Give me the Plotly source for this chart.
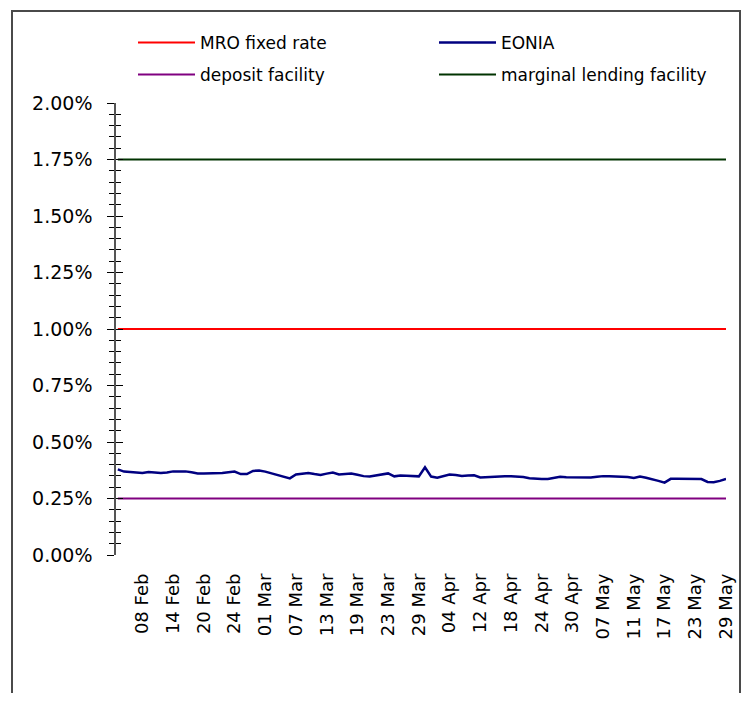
import plotly.graph_objects as go

# ---- data -------------------------------------------------------------
tick_labels = ["08 Feb", "14 Feb", "20 Feb", "24 Feb", "01 Mar", "07 Mar", "13 Mar",
               "19 Mar", "23 Mar", "29 Mar", "04 Apr", "12 Apr", "18 Apr", "24 Apr",
               "30 Apr", "07 May", "11 May", "17 May", "23 May", "29 May"]

eonia = [0.379, 0.369, 0.367, 0.365, 0.363, 0.367, 0.364, 0.363, 0.365, 0.370,
         0.370, 0.370, 0.366, 0.361, 0.361, 0.361, 0.362, 0.363, 0.366, 0.369,
         0.358, 0.358, 0.372, 0.374, 0.369, 0.362, 0.354, 0.346, 0.339, 0.356,
         0.360, 0.363, 0.358, 0.354, 0.360, 0.365, 0.356, 0.360, 0.361, 0.355,
         0.349, 0.347, 0.352, 0.357, 0.361, 0.348, 0.352, 0.351, 0.349, 0.348,
         0.388, 0.347, 0.342, 0.350, 0.356, 0.354, 0.350, 0.352, 0.353, 0.343,
         0.345, 0.346, 0.348, 0.349, 0.348, 0.348, 0.345, 0.340, 0.337, 0.336,
         0.336, 0.341, 0.346, 0.344, 0.343, 0.343, 0.343, 0.343, 0.346, 0.349,
         0.348, 0.347, 0.348, 0.345, 0.341, 0.347, 0.342, 0.336, 0.328, 0.320,
         0.337, 0.337, 0.336, 0.336, 0.336, 0.336, 0.323, 0.322, 0.328, 0.337]

mro_rate = 1.00
deposit_rate = 0.25
marginal_rate = 1.75

n = len(eonia)
x_idx = list(range(n))
label_step = 5
tick_pos = [i for i in range(label_step - 1, n, label_step)]

# ---- layout constants (page body has an 8px margin) ---------------------
OFF = 8
W, H = 749 - 2 * OFF, 701 - 2 * OFF
# target screen positions of the plot area
AX_L, AX_R, AX_T, AX_B = 116, 726, 103, 555
ML = AX_L - OFF
MT = AX_T - OFF
MR = W - (AX_R - OFF)
MB = H - (AX_B - OFF)
PW, PH = W - ML - MR, H - MT - MB

def px_x(p):
    return (p - OFF - ML) / PW

def px_y(p):
    return (H - MB - (p - OFF)) / PH

FONT = "DejaVu Sans, Verdana, sans-serif"

fig = go.Figure()
fig.add_trace(go.Scatter(x=x_idx, y=[mro_rate] * n, mode="lines", name="MRO fixed rate",
                         line=dict(color="#FF0000", width=2), legend="legend"))
fig.add_trace(go.Scatter(x=x_idx, y=eonia, mode="lines", name="EONIA",
                         line=dict(color="#000080", width=2.5), legend="legend2"))
fig.add_trace(go.Scatter(x=x_idx, y=[deposit_rate] * n, mode="lines", name="deposit facility",
                         line=dict(color="#800080", width=2), legend="legend3", yaxis="y2"))
fig.add_trace(go.Scatter(x=x_idx, y=[marginal_rate] * n, mode="lines",
                         name="marginal lending facility",
                         line=dict(color="#003300", width=2), legend="legend4"))

yrange = [0, 2]
legend_common = dict(orientation="h", xanchor="left", yanchor="middle", itemwidth=57,
                     bgcolor="rgba(0,0,0,0)", font=dict(family=FONT, size=17))
col1, col2 = 133, 434
row1, row2 = 43, 75
fig.update_layout(
    width=W, height=H,
    margin=dict(l=ML, r=MR, t=MT, b=MB, autoexpand=False),
    paper_bgcolor="white", plot_bgcolor="white",
    font=dict(family=FONT, size=18, color="black"),
    xaxis=dict(range=[-0.3, n - 1], tickmode="array", tickvals=tick_pos,
               ticktext=tick_labels, tickangle=-90, ticks="", showgrid=False,
               showline=False, zeroline=False, ticklabelstandoff=14,
               automargin=False, tickfont=dict(size=18)),
    yaxis=dict(range=yrange, dtick=0.25, tick0=0, tickformat=".2f", ticksuffix="%",
               ticks="outside", ticklen=7, tickwidth=1, tickcolor="black",
               showline=True, linecolor="#555555", linewidth=1.5,
               showgrid=False, zeroline=False, ticklabelstandoff=11,
               automargin=False, tickfont=dict(size=19),
               minor=dict(dtick=0.05, tick0=0, ticks="outside", ticklen=5,
                          tickcolor="black", tickwidth=1, showgrid=False)),
    yaxis2=dict(range=yrange, overlaying="y", side="left", anchor="x",
                dtick=0.25, tick0=0, ticks="inside", ticklen=7, tickwidth=1,
                tickcolor="black", showticklabels=False, showline=False,
                showgrid=False, zeroline=False, automargin=False,
                minor=dict(dtick=0.05, tick0=0, ticks="inside", ticklen=5,
                           tickcolor="black", tickwidth=1, showgrid=False)),
    legend=dict(x=px_x(col1), y=px_y(row1), **legend_common),
    legend2=dict(x=px_x(col2), y=px_y(row1), **legend_common),
    legend3=dict(x=px_x(col1), y=px_y(row2), **legend_common),
    legend4=dict(x=px_x(col2), y=px_y(row2), **legend_common),
    showlegend=True,
    shapes=[dict(type="rect", xref="paper", yref="paper",
                 x0=px_x(12), x1=px_x(740), y0=px_y(760), y1=px_y(11),
                 line=dict(color="#4a4a4a", width=2), fillcolor="rgba(0,0,0,0)",
                 layer="below")],
)

fig.write_html("out.html")
